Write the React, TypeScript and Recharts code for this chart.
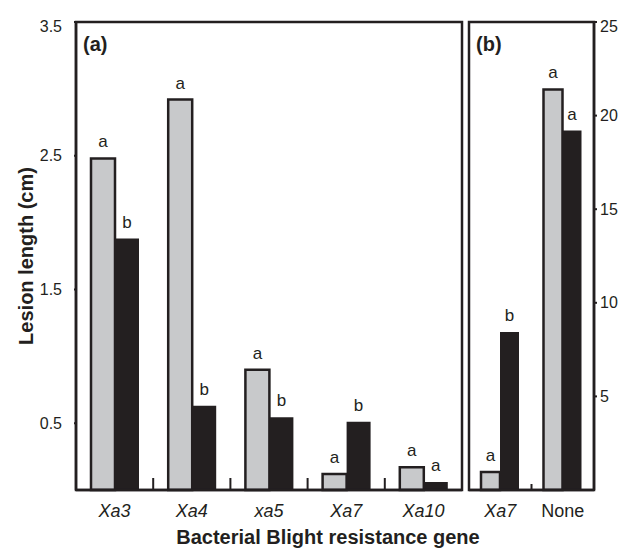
import { BarChart, Bar, XAxis, YAxis, LabelList } from "recharts";

const INK = "#231f20";
const LIGHT = "#c8c9cb";
const FONT = "'Liberation Sans', Arial, Helvetica, sans-serif";

// panel (a): lesion length, cm
const genesA = ["Xa3", "Xa4", "xa5", "Xa7", "Xa10"];
const lightA = [2.48, 2.92, 0.9, 0.12, 0.17];
const darkA = [1.88, 0.63, 0.545, 0.51, 0.06];
const lightLettersA = ["a", "a", "a", "a", "a"];
const darkLettersA = ["b", "b", "b", "b", "a"];
const ticksA = [0.5, 1.5, 2.5, 3.5];

// panel (b): right-hand scale
const genesB = ["Xa7", "None"];
const lightB = [0.96, 21.4];
const darkB = [8.44, 19.2];
const lightLettersB = ["a", "a"];
const darkLettersB = ["b", "a"];
const ticksB = [5, 10, 15, 20, 25];

const W = 624;
const H = 548;
const TOP = 22;
const BOTTOM_H = 58;
const A_LEFT = 76;
const A_RIGHT = 462;
const B_LEFT = 469;
const B_RIGHT = 594;
const PLOT_BOTTOM = H - BOTTOM_H;

const rowsA = genesA.map((gene, i) => ({
  gene,
  light: lightA[i],
  dark: darkA[i],
  lightLetter: lightLettersA[i],
  darkLetter: darkLettersA[i],
}));

const rowsB = genesB.map((gene, i) => ({
  gene,
  light: lightB[i],
  dark: darkB[i],
  lightLetter: lightLettersB[i],
  darkLetter: darkLettersB[i],
}));

const axisLine = { stroke: INK, strokeWidth: 2.5 };

function makeGeneTick(band: number, count: number, sepHeight: number) {
  return (props: any) => {
    const { x, y, payload, index } = props;
    const italic = payload.value !== "None";
    return (
      <g>
        <text
          x={x}
          y={y + 27}
          textAnchor="middle"
          fontSize={18}
          fontStyle={italic ? "italic" : "normal"}
          fontFamily={FONT}
          fill={INK}
        >
          {payload.value}
        </text>
        {index < count - 1 && (
          <line
            x1={x + band / 2}
            x2={x + band / 2}
            y1={y}
            y2={y - sepHeight}
            stroke={INK}
            strokeWidth={2}
          />
        )}
      </g>
    );
  };
}

function makeValueTick(anchor: "start" | "end", topValue: number) {
  return (props: any) => {
    const { x, y, payload } = props;
    // the top label sits a little below the frame corner
    const dy = payload.value === topValue ? 4 : 0;
    return (
      <text
        x={x}
        y={y + dy}
        textAnchor={anchor}
        dominantBaseline="central"
        fontSize={16}
        fontFamily={FONT}
        fill={INK}
      >
        {payload.value}
      </text>
    );
  };
}

function letterLabel(props: any) {
  const { x, y, width, value } = props;
  return (
    <text
      x={x + width / 2}
      y={y - 11}
      textAnchor="middle"
      fontSize={17}
      fontFamily={FONT}
      fill={INK}
    >
      {value}
    </text>
  );
}

export default function App() {
  const bandA = (A_RIGHT - A_LEFT) / genesA.length;
  const bandB = (B_RIGHT - B_LEFT) / genesB.length;
  const boldText = { fontSize: 20, fontWeight: "bold" as const, fontFamily: FONT, fill: INK };

  return (
    <div style={{ position: "absolute", left: 0, top: 0, width: W, height: H, background: "#fff" }}>
      <div style={{ position: "absolute", left: 0, top: 0 }}>
        <BarChart
          width={W}
          height={H}
          data={rowsA}
          barGap={0}
          margin={{ top: TOP, right: W - A_RIGHT, bottom: 0, left: 0 }}
        >
          <XAxis
            dataKey="gene"
            height={BOTTOM_H}
            axisLine={axisLine}
            tickLine={false}
            tickSize={0}
            tickMargin={0}
            interval={0}
            tick={makeGeneTick(bandA, genesA.length, 12)}
          />
          <YAxis
            width={A_LEFT}
            domain={[0, 3.5]}
            ticks={ticksA}
            axisLine={axisLine}
            tickLine={{ stroke: INK, strokeWidth: 2 }}
            tickSize={2}
            tickMargin={12}
            tick={makeValueTick("end", 3.5)}
          />
          <Bar dataKey="light" fill={LIGHT} stroke={INK} strokeWidth={2.5} barSize={24} isAnimationActive={false}>
            <LabelList dataKey="lightLetter" content={letterLabel} />
          </Bar>
          <Bar dataKey="dark" fill={INK} barSize={24} isAnimationActive={false}>
            <LabelList dataKey="darkLetter" content={letterLabel} />
          </Bar>
        </BarChart>
      </div>

      <div style={{ position: "absolute", left: 0, top: 0 }}>
        <BarChart
          width={W}
          height={H}
          data={rowsB}
          barGap={0}
          margin={{ top: TOP, right: 0, bottom: 0, left: B_LEFT }}
        >
          <XAxis
            dataKey="gene"
            height={BOTTOM_H}
            axisLine={axisLine}
            tickLine={false}
            tickSize={0}
            tickMargin={0}
            interval={0}
            tick={makeGeneTick(bandB, genesB.length, 6)}
          />
          <YAxis
            orientation="right"
            width={W - B_RIGHT}
            domain={[0, 25]}
            ticks={ticksB}
            axisLine={axisLine}
            tickLine={{ stroke: INK, strokeWidth: 2 }}
            tickSize={3}
            tickMargin={3}
            tick={makeValueTick("start", 25)}
          />
          <Bar dataKey="light" fill={LIGHT} stroke={INK} strokeWidth={2.5} barSize={19} isAnimationActive={false}>
            <LabelList dataKey="lightLetter" content={letterLabel} />
          </Bar>
          <Bar dataKey="dark" fill={INK} barSize={19} isAnimationActive={false}>
            <LabelList dataKey="darkLetter" content={letterLabel} />
          </Bar>
        </BarChart>
      </div>

      {/* panel frames, panel tags and axis titles */}
      <svg width={W} height={H} style={{ position: "absolute", left: 0, top: 0, pointerEvents: "none" }}>
        <rect x={A_LEFT} y={TOP} width={A_RIGHT - A_LEFT} height={PLOT_BOTTOM - TOP} fill="none" stroke={INK} strokeWidth={2.5} />
        <rect x={B_LEFT} y={TOP} width={B_RIGHT - B_LEFT} height={PLOT_BOTTOM - TOP} fill="none" stroke={INK} strokeWidth={2.5} />
        <text x={83} y={51} {...boldText}>(a)</text>
        <text x={476} y={51} {...boldText}>(b)</text>
        <text x={328} y={544} textAnchor="middle" {...boldText}>
          Bacterial Blight resistance gene
        </text>
        <text
          x={26}
          y={256}
          transform="rotate(-90 26 256)"
          textAnchor="middle"
          dominantBaseline="central"
          {...boldText}
        >
          Lesion length (cm)
        </text>
      </svg>
    </div>
  );
}
